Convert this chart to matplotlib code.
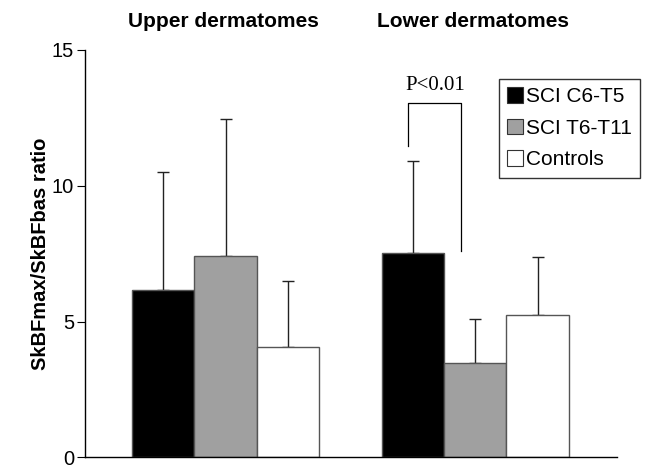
import matplotlib
matplotlib.use('Agg')
import matplotlib.pyplot as plt
from matplotlib.patches import Patch

plt.rcParams['font.family'] = ['Liberation Sans', 'DejaVu Sans']

# data
groups = ['Upper dermatomes', 'Lower dermatomes']
series = ['SCI C6-T5', 'SCI T6-T11', 'Controls']
means = {
    'SCI C6-T5': [6.18, 7.53],
    'SCI T6-T11': [7.40, 3.49],
    'Controls': [4.08, 5.25],
}
sds = {
    'SCI C6-T5': [4.33, 3.37],
    'SCI T6-T11': [5.07, 1.59],
    'Controls': [2.43, 2.12],
}
colors = ['#000000', '#a0a0a0', '#ffffff']
group_centers = [0, 4]

fig = plt.figure(figsize=(6.5, 4.67), dpi=100)
ax = fig.add_axes([0.131, 0.0205, 0.818, 0.8725])

for i, s in enumerate(series):
    xs = [c + (i - 1) for c in group_centers]
    ax.bar(xs, means[s], width=1.0, color=colors[i], edgecolor='#555555',
           linewidth=1.0, label=s, zorder=2)
    ax.errorbar(xs, means[s], yerr=[[0, 0], sds[s]], fmt='none',
                ecolor='#222222', elinewidth=1.0, capsize=4, capthick=1.0,
                zorder=1)

ax.set_xlim(-2.25, 6.27)
ax.set_ylim(0, 15)
ax.set_yticks([0, 5, 10, 15])
ax.set_xticks([])
ax.tick_params(axis='y', direction='out', length=6, labelsize=14.5, pad=2)
for side in ['top', 'right']:
    ax.spines[side].set_visible(False)
ax.spines['left'].set_linewidth(1.0)
ax.spines['bottom'].set_linewidth(1.0)
ax.set_ylabel('SkBFmax/SkBFbas ratio', fontsize=14.5, fontweight='bold', labelpad=1)

for c, g in zip(group_centers, groups):
    ax.text(c - 0.03, 16.05, g, ha='center', va='center', fontsize=15,
            fontweight='bold', clip_on=False)

# significance bracket
ax.plot([2.92, 2.92, 3.77, 3.77], [11.47, 13.04, 13.04, 7.59],
        color='black', linewidth=0.9, zorder=3)
ax.text(3.36, 13.7, 'P<0.01', ha='center', va='center', fontsize=15,
        family='Liberation Serif')

handles = [Patch(facecolor=colors[i], edgecolor='#333333', linewidth=0.8)
           for i in range(3)]
leg = ax.legend(handles, series, loc='upper left',
                bbox_to_anchor=(499 / 650, 1 - 79 / 467),
                bbox_transform=fig.transFigure, fontsize=15,
                handlelength=0.75, handleheight=0.75, handletextpad=0.15,
                labelspacing=0.6, borderpad=0.4, borderaxespad=0,
                frameon=True, fancybox=False)
leg.get_frame().set_edgecolor('black')
leg.get_frame().set_linewidth(1.0)

fig.savefig('out.png', dpi=100)
